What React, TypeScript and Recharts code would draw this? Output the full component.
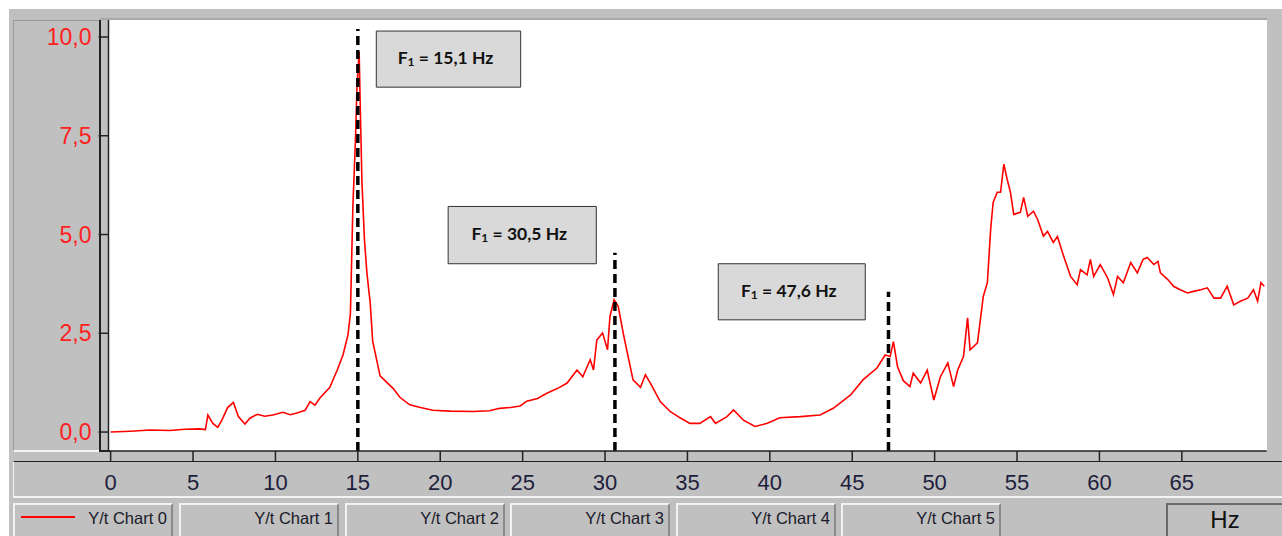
import React from "react";
import {
  LineChart,
  Line,
  XAxis,
  YAxis,
  ReferenceLine,
  ReferenceArea,
} from "recharts";

// frequency (Hz) and amplitude
const freq = [
  0, 1.2, 2.4, 3.6, 4.5, 5.4, 5.75, 5.9, 6.2, 6.5, 6.75, 7.1, 7.45, 7.75, 8.15,
  8.45, 8.9, 9.35, 9.85, 10.45, 10.9, 11.3, 11.8, 12.1, 12.4, 12.7, 13.3, 13.75,
  14.1, 14.4, 14.55, 14.7, 14.85, 14.95, 15.08, 15.15, 15.25, 15.4, 15.55, 15.75,
  15.9, 16.35, 17.15, 17.55, 18.15, 18.8, 19.55, 20.6, 22.0, 23.0, 23.6, 24.25,
  24.85, 25.25, 25.9, 26.5, 27.1, 27.7, 28.3, 28.65, 29.1, 29.3, 29.5, 29.85,
  30.15, 30.3, 30.55, 30.8, 31.1, 31.4, 31.7, 32.15, 32.45, 32.75, 33.35, 33.95,
  34.55, 35.15, 35.75, 36.4, 36.7, 37.4, 37.8, 38.4, 39.1, 39.85, 40.6, 41.85,
  43.05, 43.85, 44.9, 45.65, 46.5, 47.0, 47.3, 47.5, 47.75, 48.1, 48.5, 48.7,
  49.15, 49.55, 49.95, 50.35, 50.8, 51.15, 51.4, 51.75, 52.0, 52.15, 52.6, 52.95,
  53.2, 53.4, 53.55, 53.8, 54.0, 54.2, 54.4, 54.6, 54.8, 55.2, 55.4, 55.65, 56.0,
  56.25, 56.6, 56.85, 57.2, 57.45, 57.8, 58.25, 58.65, 58.85, 59.25, 59.45, 59.65,
  60.05, 60.5, 60.85, 61.1, 61.45, 61.9, 62.3, 62.65, 62.9, 63.3, 63.55, 63.7,
  64.15, 64.5, 64.9, 65.35, 65.7, 66.15, 66.55, 66.95, 67.35, 67.75, 68.15, 68.55,
  69.0, 69.35, 69.6, 69.8, 70.0,
];
const amplitude = [
  0.0, 0.02, 0.05, 0.04, 0.07, 0.08, 0.06, 0.43, 0.22, 0.12, 0.3, 0.62, 0.75, 0.39,
  0.2, 0.35, 0.45, 0.4, 0.43, 0.5, 0.44, 0.48, 0.55, 0.77, 0.68, 0.86, 1.13, 1.57,
  1.95, 2.46, 3.0, 5.72, 7.33, 8.77, 9.62, 8.17, 6.32, 4.87, 4.03, 3.27, 2.3, 1.42,
  1.1, 0.88, 0.69, 0.62, 0.55, 0.53, 0.52, 0.54, 0.6, 0.62, 0.66, 0.78, 0.85, 0.99,
  1.1, 1.24, 1.57, 1.4, 1.83, 1.57, 2.33, 2.51, 2.08, 2.93, 3.35, 3.18, 2.51, 1.91,
  1.32, 1.13, 1.45, 1.24, 0.77, 0.52, 0.36, 0.22, 0.22, 0.39, 0.22, 0.39, 0.56,
  0.3, 0.14, 0.22, 0.36, 0.39, 0.43, 0.6, 0.94, 1.32, 1.62, 1.95, 1.91, 2.29, 1.65,
  1.3, 1.15, 1.49, 1.24, 1.57, 0.81, 1.4, 1.75, 1.15, 1.57, 1.91, 2.89, 2.08, 2.26,
  3.43, 3.78, 5.13, 5.81, 6.07, 6.07, 6.78, 6.4, 6.07, 5.51, 5.56, 5.94, 5.46,
  5.59, 5.38, 4.96, 5.08, 4.8, 4.95, 4.49, 3.94, 3.73, 4.11, 3.98, 4.37, 3.94,
  4.24, 3.9, 3.48, 3.94, 3.78, 4.29, 4.03, 4.37, 4.42, 4.24, 4.32, 4.03, 3.86,
  3.69, 3.6, 3.52, 3.56, 3.6, 3.65, 3.39, 3.39, 3.69, 3.22, 3.31, 3.39, 3.6, 3.31,
  3.78, 3.69,
];

const xTicks = [0, 5, 10, 15, 20, 25, 30, 35, 40, 45, 50, 55, 60, 65];
const yTicks = [0, 2.5, 5, 7.5, 10];

// dashed markers at the resonance peaks (x, top of the dash)
const markerFreq = [15.0, 30.6, 47.2];
const markerTop = [10.2, 4.54, 3.55];

// annotation boxes (data units)
const noteText = ["15,1 Hz", "30,5 Hz", "47,6 Hz"];
const noteX1 = [16.12, 20.48, 36.87];
const noteX2 = [24.88, 29.47, 45.79];
const noteY1 = [8.73, 4.26, 2.84];
const noteY2 = [10.15, 5.71, 4.26];

const legendNames = [
  "Y/t Chart 0",
  "Y/t Chart 1",
  "Y/t Chart 2",
  "Y/t Chart 3",
  "Y/t Chart 4",
  "Y/t Chart 5",
];
const legendLeft = [13, 179, 345, 510, 676, 841];

const Y_MIN = -0.48;
const Y_MAX = 10.43;

const data = freq.map((f, i) => ({ f, v: amplitude[i] }));

const NoteLabel = ({ viewBox, text }: any) => {
  if (!viewBox) return null;
  const cx = viewBox.x + viewBox.width / 2 - 3;
  const cy = viewBox.y + viewBox.height / 2;
  return (
    <text
      x={cx}
      y={cy + 5}
      textAnchor="middle"
      fontFamily="Lato, 'Open Sans', sans-serif"
      fontWeight={700}
      fontSize={17.5}
      fill="#111"
    >
      <tspan>F</tspan>
      <tspan fontSize={12} dy={2}>
        1
      </tspan>
      <tspan dy={-2}>{" = " + text}</tspan>
    </text>
  );
};

const abs = (s: React.CSSProperties): React.CSSProperties => ({
  position: "absolute",
  boxSizing: "border-box",
  ...s,
});

const App = () => {
  return (
    <div
      style={abs({
        left: 0,
        top: 0,
        width: 1282,
        height: 536,
        background: "#fff",
        overflow: "hidden",
        fontFamily: "'Liberation Sans', Arial, sans-serif",
      })}
    >
      {/* window frame */}
      <div style={abs({ left: 9, top: 9, width: 1273, height: 527, background: "#c0c0c0" })} />
      {/* y axis panel */}
      <div
        style={abs({
          left: 13,
          top: 20,
          width: 88,
          height: 432,
          borderTop: "1px solid #9a9a9a",
          borderLeft: "1px solid #9a9a9a",
          borderBottom: "2px solid #f4f4f4",
        })}
      />
      <div style={abs({ left: 99, top: 20, width: 1.5, height: 432, background: "#222" })} />
      {/* plot area */}
      <div style={abs({ left: 100, top: 18, width: 1167, height: 2, background: "#a8a8a8" })} />
      <div style={abs({ left: 108.5, top: 20, width: 1158, height: 431, background: "#fff" })} />
      <div style={abs({ left: 100, top: 450, width: 10, height: 1.5, background: "#222" })} />
      {/* x axis band */}
      <div
        style={abs({
          left: 13,
          top: 461,
          width: 1269,
          height: 37,
          borderTop: "1.5px solid #222",
          borderLeft: "1px solid #f4f4f4",
          borderBottom: "2px solid #f4f4f4",
        })}
      />
      {/* legend buttons */}
      {legendNames.map((name, i) => (
        <div
          key={name}
          style={abs({
            left: legendLeft[i],
            top: 503,
            width: 160,
            height: 36,
            borderTop: "2px solid #f2f2f2",
            borderLeft: "2px solid #f2f2f2",
            borderRight: "2px solid #8a8a8a",
            background: "#c0c0c0",
            fontSize: 16.5,
            color: "#1a1a2a",
            textAlign: "right",
            paddingRight: 4,
            lineHeight: "26px",
          })}
        >
          {i === 0 && (
            <div
              style={abs({ left: 6, top: 11, width: 54, height: 1.5, background: "#ff0000" })}
            />
          )}
          {name}
        </div>
      ))}
      <div
        style={abs({
          left: 1166,
          top: 503,
          width: 116,
          height: 36,
          borderTop: "2px solid #6a6a6a",
          borderLeft: "2px solid #6a6a6a",
          background: "#c0c0c0",
          fontSize: 24,
          color: "#111",
          textAlign: "center",
          lineHeight: "30px",
        })}
      >
        Hz
      </div>

      <div style={abs({ left: 0, top: 0, width: 1282, height: 536 })}>
        <LineChart
          width={1282}
          height={536}
          data={data}
          margin={{ top: 20, right: 15.3, bottom: 55, left: 88.5 }}
        >
          <XAxis
            dataKey="f"
            type="number"
            domain={[-0.13, 70.15]}
            ticks={xTicks}
            allowDataOverflow
            height={30}
            tickSize={11}
            tickMargin={12}
            axisLine={{ stroke: "#222", strokeWidth: 1.5 }}
            tickLine={{ stroke: "#222", strokeWidth: 1.5 }}
            tick={{ fill: "#1e1e3c", fontSize: 22, fontFamily: "'Liberation Sans', Arial" }}
          />
          <YAxis
            type="number"
            domain={[Y_MIN, Y_MAX]}
            ticks={yTicks}
            allowDataOverflow
            width={20}
            tickSize={10}
            tickMargin={7}
            tickFormatter={(v: number) => v.toFixed(1).replace(".", ",")}
            axisLine={{ stroke: "#222", strokeWidth: 1.5 }}
            tickLine={{ stroke: "#222", strokeWidth: 1.5 }}
            tick={{ fill: "#ff2020", fontSize: 23, fontFamily: "'Liberation Sans', Arial" }}
          />
          {noteText.map((t, i) => (
            <ReferenceArea
              key={t}
              x1={noteX1[i]}
              x2={noteX2[i]}
              y1={noteY1[i]}
              y2={noteY2[i]}
              fill="#d9d9d9"
              fillOpacity={1}
              stroke="#333"
              strokeWidth={1}
              label={(p: any) => <NoteLabel viewBox={p.viewBox} text={t} />}
            />
          ))}
          <Line
            type="linear"
            dataKey="v"
            stroke="#ff0000"
            strokeWidth={1.6}
            dot={false}
            isAnimationActive={false}
          />
          {markerFreq.map((f, i) => (
            <ReferenceLine
              key={f}
              segment={[
                { x: f, y: Y_MIN },
                { x: f, y: markerTop[i] },
              ]}
              stroke="#000"
              strokeWidth={3.5}
              strokeDasharray="9 5"
            />
          ))}
        </LineChart>
      </div>
    </div>
  );
};

export default App;
